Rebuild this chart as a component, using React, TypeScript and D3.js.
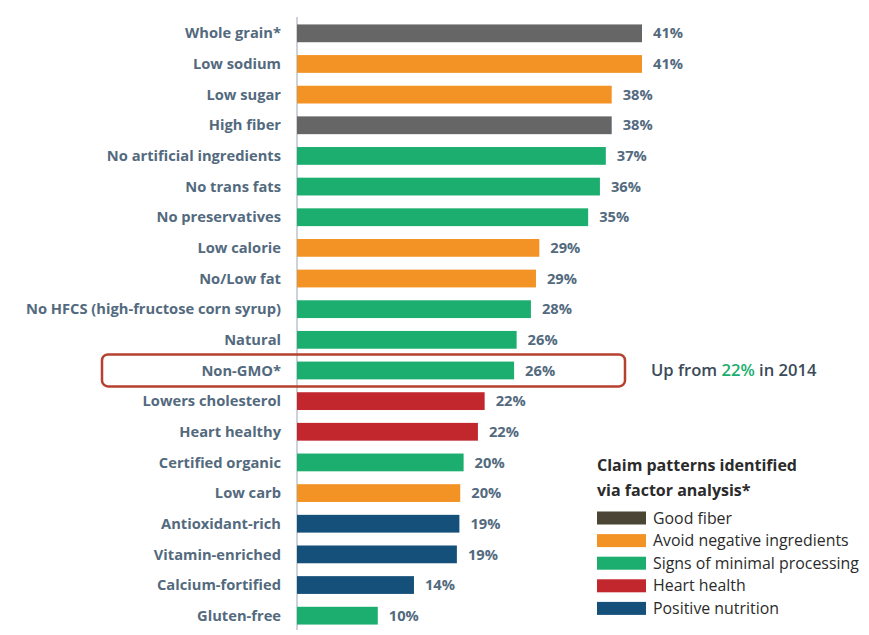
import React from "react";
import * as d3 from "d3";

const categories = [
  "Whole grain*", "Low sodium", "Low sugar", "High fiber", "No artificial ingredients",
  "No trans fats", "No preservatives", "Low calorie", "No/Low fat",
  "No HFCS (high-fructose corn syrup)", "Natural", "Non-GMO*", "Lowers cholesterol",
  "Heart healthy", "Certified organic", "Low carb", "Antioxidant-rich",
  "Vitamin-enriched", "Calcium-fortified", "Gluten-free",
];
// bar lengths
const values = [41, 41, 37.4, 37.4, 36.7, 36.0, 34.6, 28.8, 28.4, 27.8, 26.1, 25.8, 22.3, 21.5, 19.8, 19.4, 19.3, 19.0, 13.9, 9.6];
// printed value labels
const valueLabels = ["41%", "41%", "38%", "38%", "37%", "36%", "35%", "29%", "29%", "28%", "26%", "26%", "22%", "22%", "20%", "20%", "19%", "19%", "14%", "10%"];
const groups = [
  "fiber", "avoid", "avoid", "fiber", "minimal", "minimal", "minimal", "avoid", "avoid",
  "minimal", "minimal", "minimal", "heart", "heart", "minimal", "avoid", "positive",
  "positive", "positive", "minimal",
];
const legendKeys = ["legend", "avoid", "minimal", "heart", "positive"];
const legendLabels = [
  "Good fiber", "Avoid negative ingredients", "Signs of minimal processing",
  "Heart health", "Positive nutrition",
];
const colorMap: Record<string, string> = {
  fiber: "#666666",
  legend: "#4a4535",
  avoid: "#f39325",
  minimal: "#1bae6e",
  heart: "#c1272d",
  positive: "#15507a",
};

const W = 869, H = 635;
const x0 = 297;
const x = d3.scaleLinear().domain([0, 41]).range([x0, 642]);
const y = d3.scaleBand().domain(categories).range([18, 631]).paddingInner(0.42).paddingOuter(0.21);

const font = "'Open Sans', 'Noto Sans', sans-serif";
const labelColor = "#536a7e";

export default function App() {
  const hi = categories.indexOf("Non-GMO*");
  const hy = (y(categories[hi]) as number) + y.bandwidth() / 2;
  return (
    <svg width={W} height={H} style={{ position: "absolute", left: 0, top: 0, background: "#fff" }}>
      <rect width={W} height={H} fill="#fff" />
      <line x1={x0} x2={x0} y1={17} y2={630} stroke="#9aa6b2" strokeWidth={1} />
      {categories.map((c, i) => {
        const yy = y(c) as number;
        const cy = yy + y.bandwidth() / 2;
        return (
          <g key={c}>
            <rect x={x(0)} y={yy} width={x(values[i]) - x(0)} height={y.bandwidth()} fill={colorMap[groups[i]]} />
            <text x={281} y={cy} dy="0.35em" textAnchor="end" fontFamily={font} fontWeight={700} fontSize={14.7} fill={labelColor}>
              {c}
            </text>
            <text x={x(values[i]) + 11} y={cy} dy="0.35em" fontFamily={font} fontWeight={700} fontSize={14.7} fill={labelColor}>
              {valueLabels[i]}
            </text>
          </g>
        );
      })}
      <rect x={102} y={hy - 16} width={523} height={32} rx={6} fill="none" stroke="#b5422f" strokeWidth={2.5} />
      <text x={651} y={hy} dy="0.35em" fontFamily={font} fontWeight={600} fontSize={16.6} fill="#3b4a58">
        Up from <tspan fill="#1bae6e">22%</tspan> in 2014
      </text>
      <text x={597} y={465} dy="0.35em" fontFamily={font} fontWeight={700} fontSize={16} fill="#2b2b2b">
        Claim patterns identified
      </text>
      <text x={597} y={490} dy="0.35em" fontFamily={font} fontWeight={700} fontSize={16} fill="#2b2b2b">
        via factor analysis*
      </text>
      {legendKeys.map((k, i) => {
        const ly = 518 + i * 22.6;
        return (
          <g key={k}>
            <rect x={597} y={ly - 6.5} width={49} height={13} fill={colorMap[k]} />
            <text x={653} y={ly} dy="0.35em" fontFamily={font} fontSize={15.9} fill="#2b2b2b">
              {legendLabels[i]}
            </text>
          </g>
        );
      })}
    </svg>
  );
}
